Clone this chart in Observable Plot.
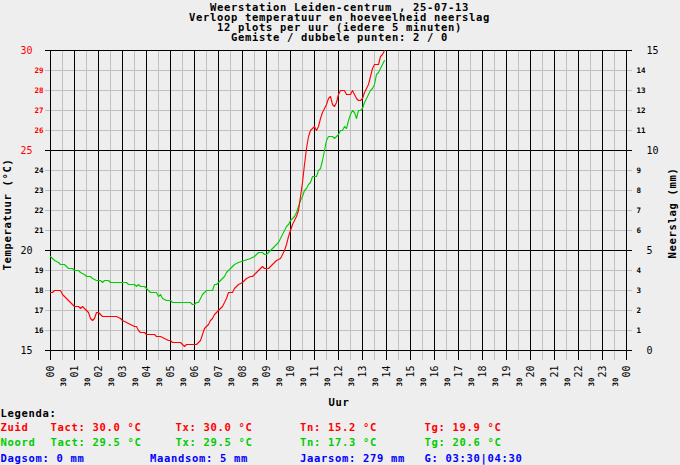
<!DOCTYPE html>
<html><head><meta charset="utf-8">
<script src="https://cdn.jsdelivr.net/npm/d3@7"></script>
<script src="https://cdn.jsdelivr.net/npm/@observablehq/plot@0.6"></script>
<style>
html,body{margin:0;padding:0;background:#eeeeee;}
#chart{width:680px;height:465px;overflow:hidden;}
svg{display:block;}
g[font-size="10.5"] text{letter-spacing:0.68px;}
</style></head><body><div id="chart"></div>
<script>
const titleLines = [
  "Weerstation Leiden-centrum , 25-07-13",
  "Verloop temperatuur en hoeveelheid neerslag",
  "12 plots per uur (iedere 5 minuten)",
  "Gemiste / dubbele punten: 2 / 0"
];

const zuidMinutes = [0,5,10,25,30,40,50,55,60,70,75,80,85,95,100,105,110,115,120,130,165,175,180,190,200,210,215,220,225,235,240,260,265,275,285,295,300,305,325,330,335,340,365,370,375,380,385,390,395,400,405,410,415,420,425,430,435,440,445,455,460,465,470,480,485,490,500,505,510,515,520,525,530,535,545,550,560,565,575,580,585,590,595,600,605,610,615,620,625,630,635,640,645,650,655,660,665,670,675,680,685,690,695,700,705,710,715,720,725,735,740,750,755,760,765,770,775,780,785,790,795,800,805,810,815,820,825,830,835];
const zuidTemp = [17.9,17.9,18.0,18.0,17.8,17.6,17.4,17.3,17.2,17.2,17.1,17.2,17.1,16.9,16.6,16.5,16.6,16.9,16.9,16.7,16.7,16.6,16.5,16.4,16.3,16.2,16.2,16.0,15.9,15.9,15.8,15.8,15.7,15.7,15.6,15.5,15.5,15.4,15.4,15.3,15.2,15.3,15.3,15.4,15.5,15.8,16.1,16.2,16.3,16.5,16.6,16.8,16.9,17.0,17.1,17.2,17.4,17.6,17.9,17.9,18.1,18.2,18.3,18.4,18.5,18.6,18.7,18.7,18.8,18.9,19.0,19.1,19.2,19.1,19.1,19.2,19.4,19.5,19.6,19.8,20.0,20.3,20.7,21.0,21.3,21.5,21.7,22.0,22.7,23.4,24.3,25.1,25.7,26.0,26.1,26.2,26.0,26.2,26.6,26.9,27.1,27.3,27.6,27.7,27.3,27.2,27.4,27.8,28.0,28.0,27.8,27.8,28.0,27.8,27.6,27.5,27.5,27.6,27.9,28.1,28.3,28.7,29.1,29.3,29.3,29.3,29.7,29.8,30.0];

const noordMinutes = [0,5,10,20,25,35,40,45,55,60,70,75,85,90,100,105,115,125,130,135,145,150,190,195,210,215,220,225,235,240,245,250,265,270,275,280,290,300,305,350,355,360,365,370,375,380,385,390,405,410,415,420,425,430,435,440,445,450,460,470,485,500,510,515,520,530,535,540,545,550,555,560,565,570,575,580,585,590,595,600,605,610,615,620,625,630,635,640,645,650,655,665,670,675,680,685,690,695,705,710,715,720,725,730,735,740,745,750,755,760,765,770,775,780,785,790,795,800,805,810,815,820,825,830,835];
const noordTemp = [19.7,19.6,19.5,19.4,19.3,19.3,19.2,19.1,19.1,19.0,19.0,18.9,18.8,18.7,18.7,18.6,18.5,18.5,18.4,18.5,18.5,18.4,18.4,18.3,18.3,18.2,18.3,18.2,18.2,18.1,18.0,17.9,17.9,17.7,17.8,17.6,17.5,17.5,17.4,17.4,17.3,17.3,17.4,17.4,17.6,17.8,17.9,18.0,18.0,18.3,18.3,18.4,18.5,18.6,18.7,18.9,19.0,19.1,19.3,19.4,19.5,19.6,19.7,19.8,19.9,19.9,19.8,19.8,19.9,20.0,20.1,20.2,20.3,20.4,20.6,20.8,21.0,21.2,21.3,21.5,21.6,21.7,21.9,22.2,22.5,22.7,23.0,23.1,23.3,23.4,23.7,23.7,24.0,24.1,24.5,25.0,25.5,25.7,25.7,25.6,25.7,25.8,26.0,26.0,26.2,26.1,26.5,26.8,27.0,26.9,26.6,27.0,27.0,27.1,27.4,27.6,27.8,28.0,28.1,28.3,28.8,28.9,29.1,29.3,29.5];

const hourTicks = d3.range(0, 25);
const hourLabels = ["00","01","02","03","04","05","06","07","08","09","10","11","12","13","14","15","16","17","18","19","20","21","22","23","00"];
const halfTicks = d3.range(0.5, 24, 1);
const halfLabel = "30";
const tempMajor = [15, 20, 25, 30];
const tempMinor = [16,17,18,19,21,22,23,24,26,27,28,29];
const rainMajor = [0, 5, 10, 15];
const rainMinor = [1,2,3,4,6,7,8,9,11,12,13,14];

const legendHeader = "Legenda:";
const statNames = ["Tact", "Tx", "Tn", "Tg"];
const zuidStats = ["30.0", "30.0", "15.2", "19.9"];
const noordStats = ["29.5", "29.5", "17.3", "20.6"];
const rainStats = ["Dagsom: 0 mm", "Maandsom: 5 mm", "Jaarsom: 279 mm", "G: 03:30|04:30"];

const RED = "#ff0000", GREEN = "#00cc00", BLUE = "#0000ff", GRAY = "#c0c0c0";
const MONO = "DejaVu Sans Mono";
const ML = 50, MT = 50;

const zuid = zuidMinutes.map((m, i) => ({h: m / 60, t: zuidTemp[i]}));
const noord = noordMinutes.map((m, i) => ({h: m / 60, t: noordTemp[i]}));

function label(text, x, y, o = {}) {
  return Plot.text([text], {
    text: d => d, frameAnchor: "top-left", lineAnchor: "middle", dx: x - ML, dy: y - MT,
    textAnchor: "start", fontFamily: MONO, fontWeight: "bold", fontSize: 10.5,
    fill: "#000", ...o
  });
}

const colX = [50, 175, 299.5, 424];
const legendMarks = [];
legendMarks.push(label(legendHeader, 0, 413));
legendMarks.push(label("Zuid", 0, 427.3, {fill: RED}));
legendMarks.push(label("Noord", 0, 442.2, {fill: GREEN}));
statNames.forEach((n, i) => {
  legendMarks.push(label(`${n}: ${zuidStats[i]} °C`, colX[i], 427.3, {fill: RED}));
  legendMarks.push(label(`${n}: ${noordStats[i]} °C`, colX[i], 442.2, {fill: GREEN}));
});
const rainX = [0, 149.5, 299.5, 424];
rainStats.forEach((s, i) => legendMarks.push(label(s, rainX[i], 457.8, {fill: BLUE})));

const titleY = [7.6, 17.3, 27.1, 36.9];
const titleMarks = titleLines.map((t, i) => label(t, 339, titleY[i], {textAnchor: "middle"}));

const chart = Plot.plot({
  width: 680, height: 465,
  marginLeft: ML, marginRight: 54, marginTop: MT, marginBottom: 115,
  x: {domain: [0, 24], axis: null},
  y: {domain: [15, 30], axis: null},
  style: {background: "transparent", overflow: "visible"},
  marks: [
    Plot.ruleY(tempMinor, {y: d => d, stroke: GRAY, insetLeft: -5, insetRight: -6, shapeRendering: "crispEdges"}),
    Plot.ruleX(halfTicks, {x: d => d, stroke: GRAY, insetBottom: -10, shapeRendering: "crispEdges"}),
    Plot.ruleX(hourTicks, {x: d => d, stroke: "#000", insetBottom: -10, shapeRendering: "crispEdges"}),
    Plot.ruleY(tempMajor, {y: d => d, stroke: "#000", insetLeft: -5, insetRight: -6, shapeRendering: "crispEdges"}),
    Plot.line(noord, {x: "h", y: "t", stroke: GREEN, strokeWidth: 1.1}),
    Plot.line(zuid, {x: "h", y: "t", stroke: RED, strokeWidth: 1.1}),
    // left temperature labels
    Plot.text(tempMajor.filter(d => d >= 25), {y: d => d, text: d => String(d), frameAnchor: "left", lineAnchor: "middle", dx: -18, textAnchor: "end", fontFamily: MONO, fontSize: 10, fill: RED}),
    Plot.text(tempMajor.filter(d => d < 25), {y: d => d, text: d => String(d), frameAnchor: "left", lineAnchor: "middle", dx: -18, textAnchor: "end", fontFamily: MONO, fontSize: 10, fill: "#000"}),
    Plot.text(tempMinor.filter(d => d >= 25), {y: d => d, text: d => String(d), frameAnchor: "left", lineAnchor: "middle", dx: -7, textAnchor: "end", fontFamily: MONO, fontWeight: "bold", fontSize: 7.5, fill: RED}),
    Plot.text(tempMinor.filter(d => d < 25), {y: d => d, text: d => String(d), frameAnchor: "left", lineAnchor: "middle", dx: -7, textAnchor: "end", fontFamily: MONO, fontWeight: "bold", fontSize: 7.5, fill: "#000"}),
    // right rain labels (0-15 mm on the same vertical extent)
    Plot.text(rainMajor, {y: d => d + 15, text: d => String(d), frameAnchor: "right", lineAnchor: "middle", dx: 20, textAnchor: "start", fontFamily: MONO, fontSize: 10, fill: "#000"}),
    Plot.text(rainMinor, {y: d => d + 15, text: d => String(d), frameAnchor: "right", lineAnchor: "middle", dx: 10, textAnchor: "start", fontFamily: MONO, fontWeight: "bold", fontSize: 7.5, fill: "#000"}),
    // x labels
    Plot.text(hourTicks, {x: d => d, text: (d, i) => hourLabels[i], frameAnchor: "bottom", lineAnchor: "middle", dy: 15, rotate: -90, textAnchor: "end", fontFamily: MONO, fontSize: 10, fill: "#000"}),
    Plot.text(halfTicks, {x: d => d, text: () => halfLabel, frameAnchor: "bottom", lineAnchor: "middle", dy: 27, dx: 1, rotate: -90, textAnchor: "end", fontFamily: MONO, fontWeight: "bold", fontSize: 7.5, fill: "#000"}),
    // axis titles
    label("Uur", 338.5, 402.3, {textAnchor: "middle"}),
    label("Temperatuur (°C)", 7.5, 214, {textAnchor: "middle", rotate: -90}),
    label("Neerslag (mm)", 672.5, 212.5, {textAnchor: "middle", rotate: -90}),
    ...titleMarks,
    ...legendMarks
  ]
});
document.getElementById("chart").appendChild(chart);
</script>
</body></html>
